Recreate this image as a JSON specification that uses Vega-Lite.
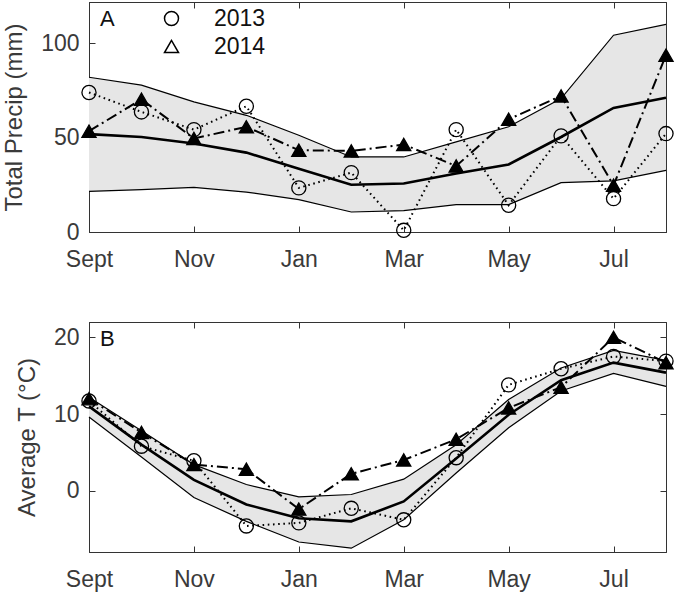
{
  "$schema": "https://vega.github.io/schema/vega-lite/v6.json",
  "padding": {"left": 2, "top": 1, "right": 9, "bottom": 0},
  "spacing": 49,
  "config": {
    "font": "Liberation Sans",
    "view": {"stroke": "#333333", "strokeWidth": 1},
    "axis": {
      "domainColor": "#333333", "tickColor": "#333333", "tickSize": -6, "grid": false,
      "labelFont": "Liberation Sans", "labelFontSize": 23, "labelColor": "#3a3a3a", "labelPadding": 16,
      "titleFont": "Liberation Sans", "titleFontSize": 24, "titleFontWeight": "normal", "titleColor": "#3a3a3a"
    }
  },
  "datasets": {
    "precip": [
      {"m": "Sept", "lo": 21.6, "hi": 82.1, "mean": 51.9, "2013": 74.0, "2014": 53.5},
      {"m": "Oct", "lo": 22.5, "hi": 77.9, "mean": 50.4, "2013": 63.7, "2014": 70.4},
      {"m": "Nov", "lo": 23.7, "hi": 69.0, "mean": 46.9, "2013": 54.3, "2014": 49.6},
      {"m": "Dec", "lo": 21.2, "hi": 61.9, "mean": 42.1, "2013": 66.7, "2014": 55.8},
      {"m": "Jan", "lo": 17.2, "hi": 51.3, "mean": 33.6, "2013": 23.4, "2014": 43.4},
      {"m": "Feb", "lo": 10.6, "hi": 39.8, "mean": 25.1, "2013": 31.5, "2014": 43.0},
      {"m": "Mar", "lo": 11.3, "hi": 39.8, "mean": 25.7, "2013": 0.9, "2014": 46.4},
      {"m": "Apr", "lo": 14.5, "hi": 47.8, "mean": 31.0, "2013": 54.3, "2014": 35.0},
      {"m": "May", "lo": 14.5, "hi": 55.8, "mean": 35.8, "2013": 14.2, "2014": 59.8},
      {"m": "Jun", "lo": 26.2, "hi": 70.8, "mean": 50.4, "2013": 51.0, "2014": 72.2},
      {"m": "Jul", "lo": 27.1, "hi": 104.4, "mean": 65.8, "2013": 17.7, "2014": 24.8},
      {"m": "Aug", "lo": 32.7, "hi": 110.1, "mean": 71.2, "2013": 52.2, "2014": 93.8}
    ],
    "temp": [
      {"m": "Sept", "lo": 9.6, "hi": 12.2, "mean": 11.0, "2013": 11.7, "2014": 12.0},
      {"m": "Oct", "lo": 4.4, "hi": 7.8, "mean": 6.0, "2013": 5.8, "2014": 7.6},
      {"m": "Nov", "lo": -0.9, "hi": 3.4, "mean": 1.4, "2013": 3.9, "2014": 3.4},
      {"m": "Dec", "lo": -4.0, "hi": 0.8, "mean": -1.8, "2013": -4.6, "2014": 2.8},
      {"m": "Jan", "lo": -6.7, "hi": -0.8, "mean": -3.6, "2013": -4.2, "2014": -2.4},
      {"m": "Feb", "lo": -7.5, "hi": -0.5, "mean": -4.0, "2013": -2.3, "2014": 2.2},
      {"m": "Mar", "lo": -3.8, "hi": 1.5, "mean": -1.4, "2013": -3.8, "2014": 4.0},
      {"m": "Apr", "lo": 2.3, "hi": 6.0, "mean": 4.2, "2013": 4.3, "2014": 6.7},
      {"m": "May", "lo": 8.2, "hi": 11.9, "mean": 9.9, "2013": 13.8, "2014": 10.8},
      {"m": "Jun", "lo": 13.0, "hi": 16.0, "mean": 14.4, "2013": 15.9, "2014": 13.5},
      {"m": "Jul", "lo": 15.3, "hi": 18.3, "mean": 16.7, "2013": 17.5, "2014": 20.0},
      {"m": "Aug", "lo": 13.6, "hi": 17.0, "mean": 15.4, "2013": 16.9, "2014": 16.7}
    ]
  },
  "resolve": {"scale": {"shape": "independent", "strokeDash": "independent"}},
  "vconcat": [
    {
      "width": 577, "height": 230,
      "data": {"name": "precip"},
      "resolve": {"axis": {"x": "independent", "y": "independent"}},
      "layer": [
        {
          "mark": {"type": "area", "color": "#e6e6e6", "opacity": 1},
          "encoding": {
            "x": {"field": "m", "type": "ordinal", "scale": {"type": "point", "padding": 0, "domain": ["Sept","Oct","Nov","Dec","Jan","Feb","Mar","Apr","May","Jun","Jul","Aug"]},
                  "axis": {"orient": "bottom", "values": ["Sept","Nov","Jan","Mar","May","Jul"], "labelAngle": 0, "title": null, "labelPadding": 22}},
            "y": {"field": "lo", "type": "quantitative", "scale": {"domain": [0, 122], "nice": false, "zero": false},
                  "axis": {"orient": "left", "values": [0, 50, 100], "title": "Total Precip (mm)", "titlePadding": 14}},
            "y2": {"field": "hi"}
          }
        },
        {
          "mark": {"type": "line", "color": "black", "strokeWidth": 1.2},
          "encoding": {"x": {"field": "m", "type": "ordinal", "axis": null}, "y": {"field": "lo", "type": "quantitative", "axis": null}}
        },
        {
          "mark": {"type": "line", "color": "black", "strokeWidth": 1.2},
          "encoding": {"x": {"field": "m", "type": "ordinal", "axis": null}, "y": {"field": "hi", "type": "quantitative", "axis": null}}
        },
        {
          "mark": {"type": "line", "color": "black", "strokeWidth": 2.6},
          "encoding": {"x": {"field": "m", "type": "ordinal", "axis": null}, "y": {"field": "mean", "type": "quantitative", "axis": null}}
        },
        {
          "transform": [{"fold": ["2013", "2014"], "as": ["year", "val"]}],
          "mark": {"type": "line", "color": "black", "strokeWidth": 2},
          "encoding": {
            "x": {"field": "m", "type": "ordinal", "axis": null},
            "y": {"field": "val", "type": "quantitative", "axis": null},
            "detail": {"field": "year"},
            "strokeDash": {"field": "year", "type": "nominal", "scale": {"domain": ["2014", "2013"], "range": [[11, 4, 2, 4], [1.6, 3.6]]}, "legend": null}
          }
        },
        {
          "transform": [{"fold": ["2013", "2014"], "as": ["year", "val"]}],
          "mark": {"type": "point", "stroke": "black", "strokeWidth": 1.3, "opacity": 1, "size": 200},
          "encoding": {
            "x": {"field": "m", "type": "ordinal", "axis": null},
            "y": {"field": "val", "type": "quantitative", "axis": null},
            "fill": {"condition": {"test": "datum.year === '2014'", "value": "black"}, "value": "transparent"},
            "shape": {"field": "year", "type": "nominal", "scale": {"domain": ["2013", "2014"], "range": ["circle", "triangle-up"]},
              "legend": {
                "title": null, "orient": "none", "legendX": 71, "legendY": 5, "padding": 0,
                "labelFontSize": 23, "labelColor": "#111111", "labelFont": "Liberation Sans", "labelOffset": 31,
                "symbolSize": 196, "rowPadding": 4, "symbolStrokeColor": "black", "symbolStrokeWidth": 1.5
              }}
          }
        },
        {
          "data": {"values": [{"panel": "A"}]},
          "mark": {"type": "text", "align": "left", "baseline": "top", "dx": 11, "dy": 7, "fontSize": 22, "fontWeight": "normal", "fill": "#111111", "font": "Liberation Sans"},
          "encoding": {
            "text": {"field": "panel"},
            "x": {"datum": "Sept", "type": "ordinal", "axis": null},
            "y": {"datum": 122, "type": "quantitative", "axis": null}
          }
        },
        {
          "mark": {"type": "point", "opacity": 0},
          "encoding": {
            "x": {"field": "m", "type": "ordinal", "axis": {"orient": "top", "values": ["Sept","Nov","Jan","Mar","May","Jul"], "labels": false, "title": null}},
            "y": {"field": "mean", "type": "quantitative", "axis": {"orient": "right", "values": [0, 50, 100], "labels": false, "title": null}}
          }
        }
      ]
    },
    {
      "width": 577, "height": 230,
      "data": {"name": "temp"},
      "resolve": {"axis": {"x": "independent", "y": "independent"}},
      "layer": [
        {
          "mark": {"type": "area", "color": "#e6e6e6", "opacity": 1},
          "encoding": {
            "x": {"field": "m", "type": "ordinal", "scale": {"type": "point", "padding": 0, "domain": ["Sept","Oct","Nov","Dec","Jan","Feb","Mar","Apr","May","Jun","Jul","Aug"]},
                  "axis": {"orient": "bottom", "values": ["Sept","Nov","Jan","Mar","May","Jul"], "labelAngle": 0, "title": null, "labelPadding": 22}},
            "y": {"field": "lo", "type": "quantitative", "scale": {"domain": [-8, 22], "nice": false, "zero": false},
                  "axis": {"orient": "left", "values": [0, 10, 20], "title": "Average T (°C)", "titlePadding": 14}},
            "y2": {"field": "hi"}
          }
        },
        {
          "mark": {"type": "line", "color": "black", "strokeWidth": 1.2},
          "encoding": {"x": {"field": "m", "type": "ordinal", "axis": null}, "y": {"field": "lo", "type": "quantitative", "axis": null}}
        },
        {
          "mark": {"type": "line", "color": "black", "strokeWidth": 1.2},
          "encoding": {"x": {"field": "m", "type": "ordinal", "axis": null}, "y": {"field": "hi", "type": "quantitative", "axis": null}}
        },
        {
          "mark": {"type": "line", "color": "black", "strokeWidth": 2.6},
          "encoding": {"x": {"field": "m", "type": "ordinal", "axis": null}, "y": {"field": "mean", "type": "quantitative", "axis": null}}
        },
        {
          "transform": [{"fold": ["2013", "2014"], "as": ["year", "val"]}],
          "mark": {"type": "line", "color": "black", "strokeWidth": 2},
          "encoding": {
            "x": {"field": "m", "type": "ordinal", "axis": null},
            "y": {"field": "val", "type": "quantitative", "axis": null},
            "detail": {"field": "year"},
            "strokeDash": {"field": "year", "type": "nominal", "scale": {"domain": ["2014", "2013"], "range": [[11, 4, 2, 4], [1.6, 3.6]]}, "legend": null}
          }
        },
        {
          "transform": [{"fold": ["2013", "2014"], "as": ["year", "val"]}],
          "mark": {"type": "point", "stroke": "black", "strokeWidth": 1.3, "opacity": 1, "size": 200},
          "encoding": {
            "x": {"field": "m", "type": "ordinal", "axis": null},
            "y": {"field": "val", "type": "quantitative", "axis": null},
            "fill": {"condition": {"test": "datum.year === '2014'", "value": "black"}, "value": "transparent"},
            "shape": {"field": "year", "type": "nominal", "scale": {"domain": ["2013", "2014"], "range": ["circle", "triangle-up"]}, "legend": null}
          }
        },
        {
          "data": {"values": [{"panel": "B"}]},
          "mark": {"type": "text", "align": "left", "baseline": "top", "dx": 11, "dy": 7, "fontSize": 22, "fontWeight": "normal", "fill": "#111111", "font": "Liberation Sans"},
          "encoding": {
            "text": {"field": "panel"},
            "x": {"datum": "Sept", "type": "ordinal", "axis": null},
            "y": {"datum": 22, "type": "quantitative", "axis": null}
          }
        },
        {
          "mark": {"type": "point", "opacity": 0},
          "encoding": {
            "x": {"field": "m", "type": "ordinal", "axis": {"orient": "top", "values": ["Sept","Nov","Jan","Mar","May","Jul"], "labels": false, "title": null}},
            "y": {"field": "mean", "type": "quantitative", "axis": {"orient": "right", "values": [0, 10, 20], "labels": false, "title": null}}
          }
        }
      ]
    }
  ]
}
